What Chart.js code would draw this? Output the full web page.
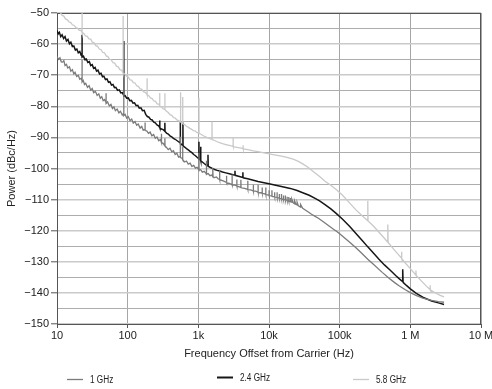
<!DOCTYPE html>
<html>
<head>
<meta charset="utf-8">
<title>Phase noise</title>
<script src="https://cdn.jsdelivr.net/npm/chart.js@4"></script>
<style>
  html, body { margin: 0; padding: 0; background: #fff; }
</style>
</head>
<body>
<canvas id="noiseChart" width="492" height="389"></canvas>
<script>
// series names / colours (legend order)
const seriesNames = ["1 GHz", "2.4 GHz", "5.8 GHz"];
const seriesColors = ["#7b7b7b", "#161616", "#c9c9c9"];

// x axis decades and their labels
const xTicks = [10, 100, 1e3, 1e4, 1e5, 1e6, 1e7];
const xTickLabels = ["10", "100", "1k", "10k", "100k", "1 M", "10 M"];

// [offset Hz, dBc/Hz] - repeated frequencies are the spurs
const noise1GHz = [
  [10,-64.0],[10.5,-64.9],[11,-64.4],[11.5,-65.7],[12,-65.8],[12.5,-65.3],[13,-66.9],[13.6,-66.5],[14.2,-67.7],[15,-67.3],
  [15.7,-68.7],[16.5,-68.2],[17.3,-69.6],[18,-69.1],[19,-70.4],[20,-70.0],[21,-71.3],[22,-71.0],[22.6,-71.8],[22.6,-65.0],
  [22.7,-72.2],[23.5,-71.7],[24.5,-73.0],[25.5,-72.6],[27,-73.9],[28.5,-73.4],[30,-74.8],[31.5,-74.3],[33,-75.6],[35,-75.2],
  [37,-76.5],[39,-76.0],[41,-77.4],[43,-76.9],[45,-78.2],[47,-77.8],[49.4,-78.8],[49.4,-75.8],[49.6,-79.1],[52,-78.6],
  [55,-79.9],[58,-79.4],[61,-80.7],[64,-80.2],[67,-81.4],[71,-80.9],[75,-82.1],[79,-81.6],[84,-82.8],[88,-82.3],
  [88,-70.0],[88.4,-83.0],[92,-82.6],[97,-83.8],[102,-83.3],[108,-84.6],[114,-84.1],[120,-85.4],[127,-84.9],[134,-86.1],
  [141,-85.7],[150,-87.0],[158,-86.5],[166,-87.7],[176,-87.3],[176,-85.2],[177,-87.8],[186,-87.9],[197,-88.7],[208,-88.3],
  [220,-89.5],[233,-89.1],[246,-90.3],[260,-89.9],[275,-91.1],[290,-90.7],[300,-91.6],[300,-88.8],[302,-91.7],[318,-91.9],
  [336,-92.7],[336,-90.3],[338,-92.8],[355,-93.2],[375,-93.9],[397,-93.5],[420,-94.6],[444,-94.3],[470,-95.5],[497,-95.1],
  [525,-96.3],[555,-96.0],[555,-89.8],[558,-96.5],[588,-96.7],[600,-97.0],[600,-93.0],[604,-97.2],[640,-97.9],[680,-97.6],
  [720,-98.6],[765,-98.3],[810,-99.3],[860,-99.0],[910,-99.9],[960,-99.6],[1020,-100.4],[1020,-95.0],[1025,-100.6],[1080,-100.4],
  [1140,-101.2],[1210,-100.9],[1300,-101.7],[1300,-97.5],[1310,-101.9],[1380,-101.6],[1460,-102.3],[1550,-102.1],[1600,-102.6],[1600,-99.8],
  [1615,-102.7],[1700,-102.9],[1800,-102.7],[1900,-103.3],[2000,-103.5],[2000,-100.6],[2010,-103.6],[2250,-104.0],[2500,-104.5],[2500,-102.3],
  [2520,-104.6],[2750,-104.8],[3000,-105.2],[3000,-101.9],[3020,-105.3],[3250,-105.3],[3500,-105.6],[3500,-103.5],[3520,-105.7],[3750,-105.8],
  [4000,-106.1],[4000,-103.6],[4020,-106.2],[4500,-106.4],[5000,-106.7],[5000,-103.9],[5030,-106.8],[5500,-106.9],[6000,-107.2],[6000,-105.2],
  [6030,-107.3],[6500,-107.3],[7000,-107.6],[7000,-105.2],[7030,-107.7],[7500,-107.8],[8000,-107.9],[8000,-106.1],[8040,-108.0],[8500,-108.1],
  [9000,-108.3],[9000,-106.1],[9040,-108.4],[9500,-108.5],[10000,-108.6],[10000,-107.0],[10050,-108.7],[11000,-108.8],[11000,-107.0],[11050,-109.0],
  [12000,-109.1],[12000,-107.6],[12060,-109.2],[13000,-109.3],[13000,-107.6],[13060,-109.4],[14000,-109.5],[14000,-108.2],[14070,-109.6],[15000,-109.7],
  [15000,-108.2],[15070,-109.8],[16000,-109.9],[16000,-108.7],[16080,-110.0],[17000,-110.0],[17000,-108.7],[17080,-110.1],[18000,-110.2],[18000,-109.1],
  [18090,-110.3],[19000,-110.4],[19000,-109.2],[19100,-110.5],[20000,-110.5],[20000,-109.5],[20100,-110.7],[21000,-110.8],[21000,-109.8],[22000,-111.0],
  [23000,-111.3],[23000,-110.4],[24000,-111.5],[25000,-111.7],[25000,-110.9],[26000,-112.0],[28000,-112.4],[28000,-111.6],[30000,-112.8],[33000,-113.4],
  [36000,-114.0],[40000,-114.7],[45000,-115.4],[50000,-116.0],[60000,-117.3],[70000,-118.4],[80000,-119.4],[90000,-120.2],[100000,-121.0],[120000,-122.5],
  [140000,-123.8],[170000,-125.5],[200000,-127.0],[250000,-129.2],[300000,-130.8],[400000,-133.4],[500000,-135.3],[600000,-136.7],[700000,-137.8],[850000,-139.0],
  [1000000,-139.9],[1200000,-140.8],[1500000,-141.7],[2000000,-142.4],[2500000,-142.8],[3000000,-143.0]
];

const noise2p4GHz = [
  [10,-55.6],[10.4,-56.7],[10.8,-56.2],[11.3,-57.6],[11.8,-57.0],[12.4,-58.2],[13,-57.6],[13.6,-59.0],[14.3,-58.5],[15,-59.9],
  [15.7,-59.4],[16.5,-60.8],[17.3,-60.6],[18.2,-61.9],[19.1,-61.6],[20,-62.8],[21,-62.4],[22,-63.6],[22.6,-63.9],[22.6,-57.0],
  [22.7,-64.2],[23.7,-63.9],[24.8,-65.0],[26,-64.8],[27.3,-65.9],[28.7,-65.6],[30,-66.9],[31.5,-66.6],[33,-67.8],[34.6,-67.5],
  [36.3,-68.7],[38,-68.4],[40,-69.6],[42,-69.4],[44,-70.5],[46,-70.3],[48.5,-71.4],[51,-71.2],[53.5,-72.3],[56,-72.1],
  [59,-73.2],[62,-73.0],[65,-74.0],[68,-73.9],[72,-74.9],[76,-74.7],[80,-75.7],[84,-75.6],[88,-76.5],[88,-59.0],
  [88.4,-76.7],[92,-76.6],[97,-77.4],[102,-77.3],[107,-78.2],[113,-78.1],[119,-79.0],[125,-78.9],[132,-79.8],[139,-79.7],
  [146,-80.6],[154,-80.5],[162,-81.4],[171,-81.3],[180,-82.6],[190,-83.3],[200,-83.5],[211,-84.2],[222,-84.4],[234,-85.1],
  [246,-85.3],[260,-86.0],[274,-86.3],[284,-86.8],[284,-84.6],[286,-86.9],[300,-87.3],[318,-87.5],[336,-88.0],[336,-85.3],
  [338,-88.1],[355,-88.6],[375,-88.9],[397,-89.5],[420,-89.8],[444,-90.3],[470,-90.6],[497,-91.0],[525,-91.4],[555,-91.8],
  [555,-84.8],[558,-91.9],[580,-92.3],[605,-92.5],[605,-85.2],[608,-92.7],[640,-93.1],[680,-93.6],[720,-94.0],[765,-94.5],
  [810,-94.9],[860,-95.5],[910,-95.9],[960,-96.4],[1020,-96.9],[1020,-91.4],[1025,-97.0],[1080,-97.4],[1080,-93.0],[1085,-97.5],
  [1140,-97.9],[1210,-98.4],[1280,-98.8],[1370,-99.2],[1370,-95.6],[1380,-99.3],[1460,-99.6],[1550,-99.9],[1700,-100.3],[1850,-100.6],
  [2000,-100.8],[2200,-101.1],[2450,-101.4],[2750,-101.7],[3100,-102.0],[3300,-102.1],[3300,-100.7],[3320,-102.2],[3700,-102.5],[4270,-102.9],
  [4270,-101.2],[4290,-103.0],[5000,-103.3],[6000,-103.8],[7000,-104.2],[8500,-104.6],[10000,-104.9],[12000,-105.3],[15000,-105.8],[20000,-106.4],
  [25000,-107.1],[30000,-107.8],[37000,-108.6],[45000,-109.6],[52000,-110.4],[62000,-111.6],[75000,-113.0],[90000,-114.5],[110000,-116.3],[140000,-118.7],
  [175000,-121.2],[210000,-123.2],[250000,-125.2],[300000,-127.2],[360000,-129.2],[430000,-131.0],[520000,-132.7],[620000,-134.4],[700000,-135.5],[780000,-136.4],
  [780000,-132.4],[790000,-136.6],[880000,-137.6],[1000000,-138.7],[1200000,-140.1],[1500000,-141.4],[2000000,-142.6],[2500000,-143.2],[3000000,-143.7]
];

const noise5p8GHz = [
  [10,-48.8],[10.6,-49.6],[11.2,-49.9],[11.8,-50.8],[12.5,-51.0],[13.2,-51.9],[14,-52.2],[14.8,-52.9],[15.6,-53.0],[16.5,-53.8],
  [17.5,-54.0],[18.5,-54.7],[19.6,-54.9],[20.7,-55.6],[21.8,-55.6],[22.6,-56.2],[22.6,-47.0],[22.7,-56.3],[24,-56.6],[25.3,-57.4],
  [26.8,-57.5],[28.3,-58.3],[30,-58.4],[31.7,-59.4],[33.5,-59.6],[35.5,-60.5],[37.5,-60.7],[39.7,-61.6],[42,-61.8],[44.4,-62.7],
  [47,-62.8],[49.7,-63.8],[52.5,-64.0],[55.5,-64.9],[58.7,-65.1],[62,-66.0],[65.6,-66.1],[69.4,-67.1],[73.4,-67.3],[77.6,-68.2],
  [82,-68.4],[86,-69.2],[86,-51.0],[86.5,-69.3],[91,-69.6],[96,-70.3],[102,-70.6],[108,-71.5],[114,-71.6],[120,-72.4],
  [127,-72.5],[134,-73.4],[142,-73.6],[150,-74.4],[158,-74.5],[167,-75.3],[177,-75.5],[188,-76.2],[188,-71.0],[189,-76.3],
  [199,-76.6],[210,-77.3],[222,-77.5],[235,-78.3],[248,-78.4],[262,-79.2],[277,-79.3],[284,-79.8],[284,-75.7],[285,-79.9],
  [300,-80.2],[318,-80.8],[336,-80.9],[336,-75.8],[337,-81.1],[355,-81.6],[375,-82.0],[397,-82.7],[420,-82.9],[444,-83.6],
  [470,-83.8],[497,-84.4],[525,-84.6],[560,-85.0],[560,-75.5],[562,-85.1],[590,-85.4],[600,-85.5],[600,-77.0],[605,-85.6],
  [640,-85.9],[680,-86.5],[720,-86.7],[760,-87.1],[805,-87.4],[850,-87.8],[900,-87.9],[950,-88.4],[1020,-88.6],[1020,-77.3],
  [1025,-88.7],[1090,-89.0],[1160,-89.4],[1240,-89.7],[1320,-90.0],[1400,-90.2],[1480,-90.5],[1560,-90.6],[1560,-85.0],[1570,-90.7],
  [1700,-91.0],[1850,-91.4],[2000,-91.7],[2200,-92.0],[2450,-92.3],[2750,-92.6],[3100,-92.9],[3100,-90.2],[3120,-93.0],[3500,-93.2],
  [3900,-93.4],[4300,-93.6],[4300,-92.5],[4320,-93.7],[5000,-93.9],[6000,-94.3],[7000,-94.6],[8500,-95.0],[10000,-95.3],[12000,-95.6],
  [15000,-96.0],[18000,-96.4],[22000,-97.0],[26000,-97.7],[30000,-98.5],[36000,-99.7],[43000,-101.1],[52000,-102.6],[62000,-104.1],[75000,-105.4],
  [90000,-106.8],[110000,-108.6],[140000,-111.2],[170000,-113.3],[210000,-115.3],[250000,-116.8],[250000,-110.4],[252000,-116.9],[300000,-118.5],[360000,-120.5],
  [420000,-122.2],[480000,-123.7],[480000,-118.0],[485000,-123.8],[560000,-125.5],[650000,-127.2],[750000,-128.8],[750000,-126.8],[760000,-129.0],[880000,-130.8],
  [1000000,-132.2],[1200000,-134.3],[1200000,-132.8],[1210000,-134.4],[1450000,-136.3],[1700000,-137.9],[1900000,-138.9],[1900000,-137.5],[1920000,-139.0],[2300000,-140.1],
  [2650000,-140.8],[3000000,-141.3]
];

const seriesData = [noise1GHz, noise2p4GHz, noise5p8GHz];

Chart.defaults.font.family = "'Liberation Sans', Arial, sans-serif";
Chart.defaults.font.size = 11;
Chart.defaults.color = "#222";

const minus = v => (v < 0 ? "\u2212" + Math.abs(v) : String(v));
const isMajor = v => v % 10 === 0;

// box around the plot area
const frame = {
  id: "frame",
  beforeDatasetsDraw(chart) {
    const { ctx, chartArea: a } = chart;
    ctx.save();
    ctx.strokeStyle = "#555";
    ctx.lineWidth = 1;
    ctx.strokeRect(a.left + 0.5, a.top + 0.5, a.right - a.left - 1, a.bottom - a.top);
    ctx.restore();
  }
};

// legend row at the bottom, spread out under the plot
const legendRow = {
  id: "legendRow",
  afterDraw(chart) {
    const ctx = chart.ctx;
    const spots = [[67, 379], [217, 377], [353, 379]];
    const widths = [1.3, 2, 1.3];
    ctx.save();
    ctx.font = "10px 'Liberation Sans', sans-serif";
    ctx.textBaseline = "middle";
    ctx.fillStyle = "#222";
    seriesNames.forEach((name, i) => {
      const [x, y] = spots[i];
      ctx.strokeStyle = seriesColors[i];
      ctx.lineWidth = widths[i];
      ctx.beginPath();
      ctx.moveTo(x, y + 0.5);
      ctx.lineTo(x + 16, y + 0.5);
      ctx.stroke();
      // narrow lettering
      ctx.save();
      ctx.translate(x + 23, y + 1);
      ctx.scale(0.82, 1);
      ctx.fillText(name, 0, 0);
      ctx.restore();
    });
    ctx.restore();
  }
};

// light series at the back, black on top
const drawOrder = [2, 0, 1];
const lineWidths = [1.3, 1.5, 1.3];

new Chart(document.getElementById("noiseChart"), {
  type: "line",
  data: {
    datasets: drawOrder.map(i => ({
      label: seriesNames[i],
      data: seriesData[i].map(p => ({ x: p[0], y: p[1] })),
      borderColor: seriesColors[i],
      borderWidth: lineWidths[i],
      pointRadius: 0,
      tension: 0,
      fill: false
    }))
  },
  options: {
    responsive: false,
    animation: false,
    devicePixelRatio: 1,
    layout: { padding: { top: 13, right: 11, left: 0, bottom: 0 } },
    plugins: { legend: { display: false }, tooltip: { enabled: false } },
    scales: {
      x: {
        type: "logarithmic",
        min: 10,
        max: 1e7,
        afterBuildTicks: s => { s.ticks = xTicks.map(v => ({ value: v })); },
        afterFit: s => { s.height = 65; s.paddingLeft = 0; s.paddingRight = 0; },
        ticks: {
          autoSkip: false,
          maxRotation: 0,
          padding: 1,
          callback: (v, i) => xTickLabels[i]
        },
        grid: { color: "#a6a6a6", lineWidth: 1, tickLength: 4, tickColor: "#555", tickWidth: 1 },
        border: { display: false },
        title: {
          display: true,
          text: "Frequency Offset from Carrier (Hz)",
          padding: { top: 0, bottom: 28 }
        }
      },
      y: {
        min: -150,
        max: -50,
        afterFit: s => { s.width = 57; },
        ticks: {
          stepSize: 5,
          autoSkip: false,
          padding: 2,
          callback: v => (isMajor(v) ? minus(v) : "")
        },
        grid: {
          color: c => (isMajor(c.tick.value) ? "#cacaca" : "#adadad"),
          lineWidth: c => (isMajor(c.tick.value) ? 1.6 : 1),
          tickLength: 6,
          tickWidth: 1,
          tickColor: c => (isMajor(c.tick.value) ? "#555" : "rgba(0,0,0,0)")
        },
        border: { display: false },
        title: {
          display: true,
          text: "Power (dBc/Hz)",
          padding: { top: 5, bottom: 0 }
        }
      }
    }
  },
  plugins: [frame, legendRow]
});
</script>
</body>
</html>
